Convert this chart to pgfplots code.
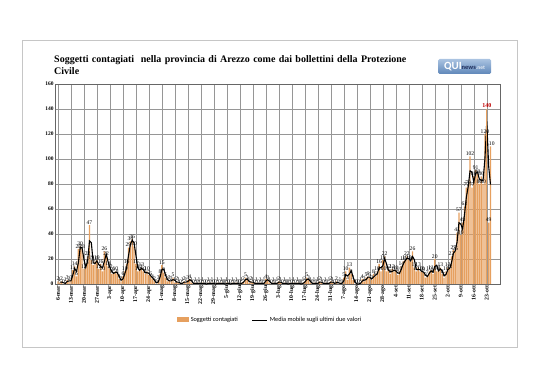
\documentclass[border=0pt]{standalone}
\usepackage{pgfplots}
\usepackage{pgfplotstable}
\pgfplotsset{compat=1.18}
\usepackage{fontspec}
\setmainfont{Liberation Serif}
\newfontfamily\calibri{Carlito}
\definecolor{barc}{RGB}{230,160,95}
\definecolor{gridc}{RGB}{150,150,150}
\definecolor{logoA}{RGB}{170,195,225}
\definecolor{logoB}{RGB}{95,135,185}
\definecolor{navy}{RGB}{30,45,90}

\pgfplotstableread{
day val ma
0 2 nan
1 1 1.5
2 2 1.5
3 0 1
4 1 0.5
5 3 2
6 2 2.5
7 3 2.5
8 11 7
9 14 12.5
10 6 10
11 28 17
12 30 29
13 28 29
14 12 20
15 15 13.5
16 22 18.5
17 47 34.5
18 19 33
19 15 17
20 18 16.5
21 19 18.5
22 12 15.5
23 16 14
24 10 13
25 26 18
26 22 24
27 14 18
28 12 13
29 8 10
30 9 8.5
31 10 9.5
32 8 9
33 4 6
34 2 3
35 6 4
36 10 8
37 16 13
38 29 22.5
39 34 31.5
40 36 35
41 30 33
42 16 23
43 10 13
44 12 11
45 13 12.5
46 10 11.5
47 8 9
48 10 9
49 7 8.5
50 6 6.5
51 4 5
52 2 3
53 0 1
54 3 1.5
55 8 5.5
56 15 11.5
57 9 12
58 5 7
59 2 3.5
60 3 2.5
61 2 2.5
62 5 3.5
63 1 3
64 2 1.5
65 1 1.5
66 0 0.5
67 1 0.5
68 2 1.5
69 1 1.5
70 3 2
71 4 3.5
72 1 2.5
73 0 0.5
74 1 0.5
75 0 0.5
76 1 0.5
77 0 0.5
78 1 0.5
79 0 0.5
80 0 0
81 1 0.5
82 0 0.5
83 1 0.5
84 0 0.5
85 0 0
86 1 0.5
87 0 0.5
88 1 0.5
89 0 0.5
90 0 0
91 1 0.5
92 0 0.5
93 0 0
94 1 0.5
95 0 0.5
96 1 0.5
97 0 0.5
98 0 0
99 1 0.5
100 2 1.5
101 5 3.5
102 3 4
103 1 2
104 2 1.5
105 1 1.5
106 0 0.5
107 1 0.5
108 0 0.5
109 1 0.5
110 0 0.5
111 1 0.5
112 4 2.5
113 3 3.5
114 1 2
115 0 0.5
116 1 0.5
117 0 0.5
118 1 0.5
119 2 1.5
120 1 1.5
121 0 0.5
122 1 0.5
123 0 0.5
124 0 0
125 1 0.5
126 0 0.5
127 1 0.5
128 0 0.5
129 1 0.5
130 0 0.5
131 0 0
132 1 0.5
133 2 1.5
134 5 3.5
135 3 4
136 1 2
137 0 0.5
138 1 0.5
139 0 0.5
140 1 0.5
141 2 1.5
142 1 1.5
143 0 0.5
144 1 0.5
145 0 0.5
146 1 0.5
147 2 1.5
148 1 1.5
149 0 0.5
150 2 1
151 0 1
152 1 0.5
153 0 0.5
154 5 2.5
155 10 7.5
156 3 6.5
157 13 8
158 8 10.5
159 3 5.5
160 0 1.5
161 0 0
162 0 0
163 1 0.5
164 4 2.5
165 2 3
166 5 3.5
167 6 5.5
168 5 5.5
169 3 4
170 8 5.5
171 6 7
172 10 8
173 16 13
174 10 13
175 19 14.5
176 22 20.5
177 10 16
178 12 11
179 8 10
180 12 10
181 10 11
182 11 10.5
183 7 9
184 10 8.5
185 14 12
186 18 16
187 19 18.5
188 22 20.5
189 19 20.5
190 18 18.5
191 26 22
192 13 19.5
193 10 11.5
194 13 11.5
195 10 11.5
196 10 10
197 9 9.5
198 5 7
199 7 6
200 10 8.5
201 11 10.5
202 8 9.5
203 20 14
204 10 15
205 11 10.5
206 13 12
207 8 10.5
208 5 6.5
209 10 7.5
210 13 11.5
211 12 12.5
212 22 17
213 27 24.5
214 26 26.5
215 41 33.5
216 57 49
217 39 48
218 49 44
219 62 55.5
220 77 69.5
221 79 78
222 102 90.5
223 77 89.5
224 86 81.5
225 91 88.5
226 88 89.5
227 80 84
228 86 83
229 80 83
230 120 100
231 140 130
232 49 94.5
233 110 79.5
}\datatable

\begin{document}
\begin{tikzpicture}
\useasboundingbox (0pt,0pt) rectangle (538pt,380pt);
% frame
\draw[gray!45, line width=0.8pt] (22pt,33pt) rectangle (517pt,340pt);
% title
\node[anchor=north west, text width=368pt, align=left, inner sep=0pt] at (54pt,325pt)
  {\fontsize{10}{13}\selectfont\bfseries Soggetti contagiati\ \ nella provincia di Arezzo come dai bollettini della Protezione Civile};
% logo
\node[top color=logoA, bottom color=logoB, rounded corners=1.5pt, minimum width=53pt, minimum height=15pt, inner sep=0pt] at (464.5pt,313.5pt)
  {\calibri\bfseries{\fontsize{11}{11}\selectfont\color{white}QUI}{\fontsize{6.5}{6.5}\selectfont\color{navy}news}{\fontsize{5.5}{5.5}\selectfont\color{white!85!logoB}.net}};
\begin{axis}[
  at={(55.7pt,96pt)}, anchor=south west,
  scale only axis, width=445pt, height=200pt,
  xmin=-1.2, xmax=238.5, ymin=0, ymax=160,
  ytick={0,20,...,160},
  xtick={0,7,...,231},
  xticklabels={6-mar,13-mar,20-mar,27-mar,3-apr,10-apr,17-apr,24-apr,1-mag,8-mag,15-mag,22-mag,29-mag,5-giu,12-giu,19-giu,26-giu,3-lug,10-lug,17-lug,24-lug,31-lug,7-ago,14-ago,21-ago,28-ago,4-set,11-set,18-set,25-set,2-ott,9-ott,16-ott,23-ott},
  x tick label style={rotate=90, anchor=east, font=\fontsize{5.8}{6}\selectfont\bfseries, inner sep=1.5pt},
  y tick label style={font=\fontsize{5.5}{6}\selectfont\bfseries, inner sep=2pt},
  /pgf/number format/assume math mode=true,
  major tick length=0pt,
  xmajorgrids, ymajorgrids,
  grid style={gridc, line width=0.55pt},
  axis line style={gray!80!black, line width=0.6pt},
  legend style={at={(0.4816,-0.18)}, anchor=center, draw=none, fill=none,
    font=\calibri\fontsize{6.3}{7}\selectfont, legend columns=2,
    /tikz/every even column/.append style={column sep=12pt}},
  clip=false,
]
\addplot[ybar, bar width=0.72, bar shift=0pt, fill=barc, draw=none,
  x filter/.expression={x==231 ? nan : x},
  nodes near coords,
  every node near coord/.append style={font=\fontsize{5.6}{6}\selectfont, inner sep=0.6pt, black},
  legend image code/.code={\fill[barc] (0pt,-2.5pt) rectangle (12pt,2.5pt);}]
  table[x=day, y=val] {\datatable};
\addlegendentry{Soggetti contagiati}
\addplot[sharp plot, black, line width=1.1pt,
  legend image code/.code={\draw[black, line width=0.9pt] (0pt,0pt) -- (15pt,0pt);}]
  table[x=day, y=ma] {\datatable};
\addlegendentry{Media mobile sugli ultimi due valori}
\addplot[ybar, bar width=0.72, bar shift=0pt, fill=barc, draw=none, forget plot,
  nodes near coords,
  every node near coord/.append style={font=\fontsize{6}{6}\selectfont\bfseries, inner sep=1.5pt, red!75!black}]
  coordinates {(231,140)};
\end{axis}
\end{tikzpicture}
\end{document}
